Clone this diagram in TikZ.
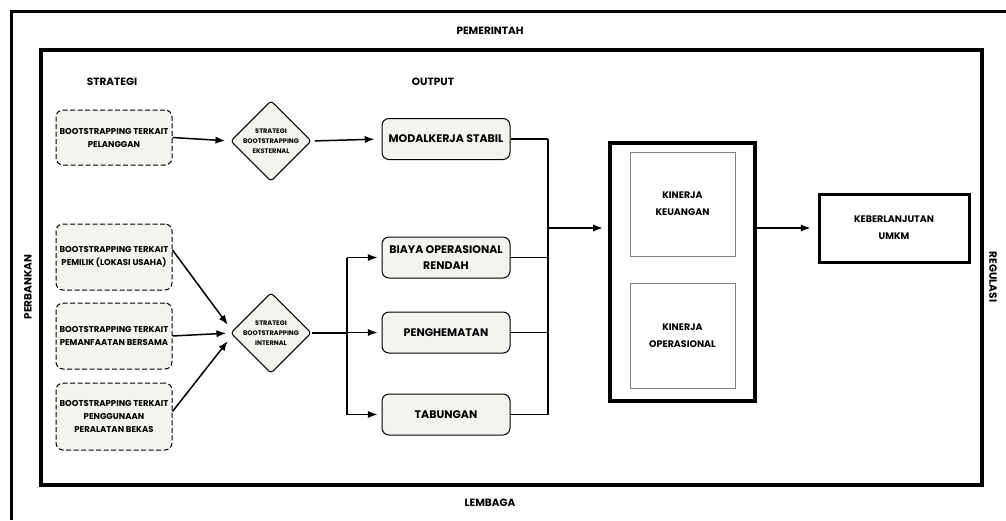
\documentclass[tikz,border=0pt]{standalone}
\usepackage{fontspec}
\setmainfont{Poppins}
\usepackage{tikz}
\usetikzlibrary{shapes.geometric,arrows.meta}

\definecolor{boxfill}{HTML}{F4F3EF}

\tikzset{
  dashbox/.style={draw, dash pattern=on 5pt off 2.5pt, rounded corners=7pt, fill=boxfill, line width=1pt,
    minimum width=116pt, inner sep=0pt, align=center, font=\fontsize{8.5}{13}\selectfont\bfseries},
  outbox/.style={draw, rounded corners=7pt, fill=boxfill, line width=1pt,
    minimum width=128pt, minimum height=41pt, align=center, font=\fontsize{11}{16}\selectfont\bfseries},
  decision/.style={draw, diamond, rounded corners=3pt, fill=boxfill, line width=1pt, aspect=1,
    minimum size=77pt, inner sep=0pt, align=center, font=\fontsize{6.6}{10}\selectfont\bfseries},
  kinbox/.style={draw=gray, line width=1pt, minimum width=105pt, minimum height=104pt,
    align=center, font=\fontsize{9.5}{17}\selectfont\bfseries},
  title/.style={font=\fontsize{10.5}{12}\selectfont\bfseries},
  side/.style={font=\fontsize{10.5}{12}\selectfont\bfseries},
  conn/.style={line width=1.5pt},
}

\begin{document}
\begin{tikzpicture}[x=1pt,y=-1pt]
\useasboundingbox (0,0) rectangle (1006,520);

%frames
\draw[line width=3pt] (11,520) -- (11,11) -- (1006,11);
\draw[line width=3.8pt] (41,50) rectangle (982,485);

\node[side] (gov) at (490,31) {PEMERINTAH};
\node[side] (inst) at (490,503) {LEMBAGA};
\node[side,rotate=90] (bank) at (28,287) {PERBANKAN};
\node[side,rotate=-90] (reg) at (993,277) {REGULASI};

\node[title] (strat) at (112,82) {STRATEGI};
\node[title] (outp) at (433,82) {OUTPUT};

%strategi
\node[dashbox, minimum height=55pt] (b1) at (114,137.5) {BOOTSTRAPPING TERKAIT\\PELANGGAN};
\node[dashbox, minimum height=66pt] (b2) at (114,257) {BOOTSTRAPPING TERKAIT\\PEMILIK (LOKASI USAHA)};
\node[dashbox, minimum height=66pt] (b3) at (114,336) {BOOTSTRAPPING TERKAIT\\PEMANFAATAN BERSAMA};
\node[dashbox, minimum height=67pt] (b4) at (114,416.5) {BOOTSTRAPPING TERKAIT\\PENGGUNAAN\\PERALATAN BEKAS};

\node[decision] (d1) at (271,141) {STRATEGI\\BOOTSTRAPPING\\EKSTERNAL};
\node[decision] (d2) at (271,333) {STRATEGI\\BOOTSTRAPPING\\INTERNAL};

%output
\node[outbox] (o1) at (446,139) {MODALKERJA STABIL};
\node[outbox] (o2) at (446,257.5) {BIAYA OPERASIONAL\\RENDAH};
\node[outbox] (o3) at (446,332.5) {PENGHEMATAN};
\node[outbox] (o4) at (446,414.5) {TABUNGAN};

%kinerja
\node[draw, line width=4.5pt, minimum width=145pt, minimum height=258pt] (k) at (682.5,272) {};
\node[kinbox] (k1) at (682.5,204) {KINERJA\\KEUANGAN};
\node[kinbox, minimum height=105pt] (k2) at (682.5,335.5) {KINERJA\\OPERASIONAL};
\node[draw, line width=3pt, minimum width=150pt, minimum height=68pt, align=center,
  font=\fontsize{9.5}{17}\selectfont\bfseries] (u) at (894,228) {KEBERLANJUTAN\\UMKM};

\coordinate (bus1) at (548,228);
\coordinate (bus2) at (347,333);

%arrows
\draw[conn,-Latex,shorten >=5pt] (b1.east) -- (d1.west);
\draw[conn,-Latex,shorten <=3pt,shorten >=7pt] (d1.east) -- (o1.west);
\draw[conn,-Latex,shorten >=4pt] ([yshift=7pt]b2.east) -- ([yshift=5pt]d2.west);
\draw[conn,-Latex,shorten >=4pt] (b3.east) -- (d2.west);
\draw[conn,-Latex,shorten >=4pt] ([yshift=5pt]b4.east) -- ([yshift=-5pt]d2.west);
\draw[conn] (d2.east) -- (bus2);
\draw[conn] (bus2 |- o2.west) -- (bus2 |- o4.west);
\foreach \o in {o2,o3,o4}
  \draw[conn,-Latex,shorten >=4pt] (bus2 |- \o.west) -- (\o.west);
\foreach \o in {o1,o2,o3,o4}
  \draw[conn] (\o.east) -- (bus1 |- \o.east);
\draw[conn] (bus1 |- o1.east) -- (bus1 |- o4.east);
\draw[conn,-Latex,shorten >=5pt] (bus1) -- (k.west |- bus1);
\draw[conn,-Latex,shorten >=7pt] (k.east |- u.west) -- (u.west);

\end{tikzpicture}
\end{document}
